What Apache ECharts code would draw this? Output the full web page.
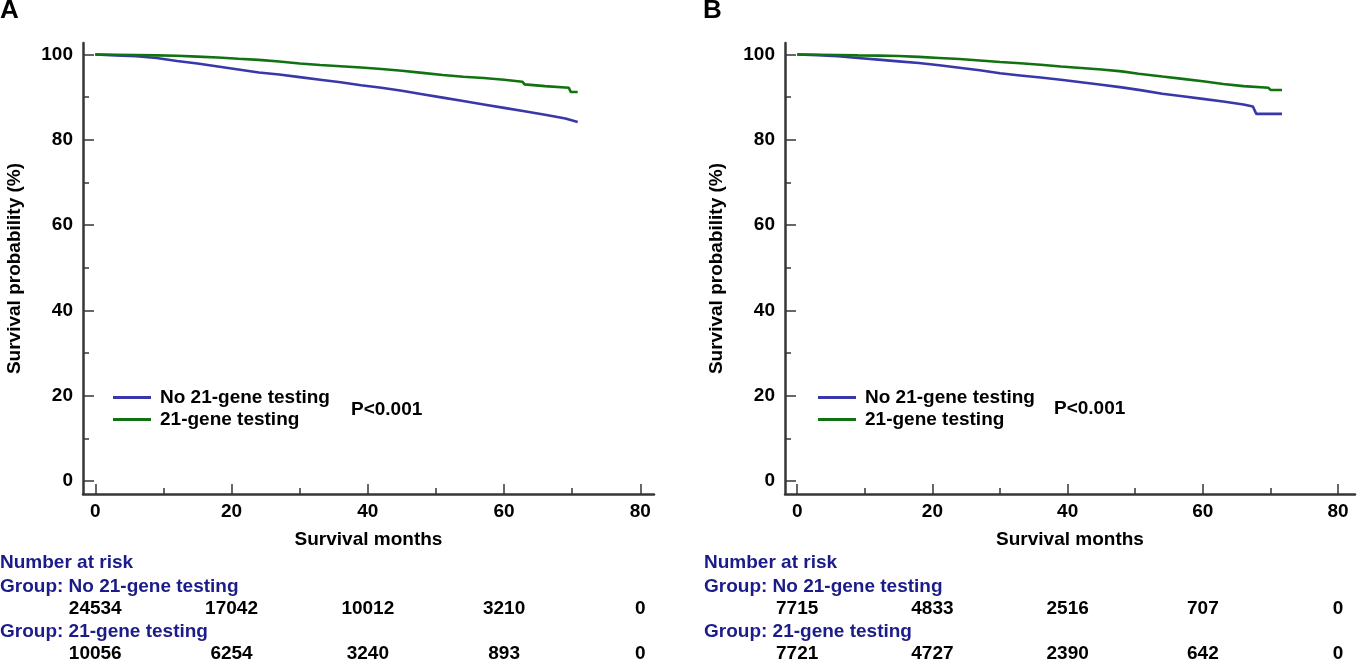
<!DOCTYPE html>
<html lang="en">
<head>
    <meta charset="UTF-8">
    <title>Survival curves</title>
    <script src="https://cdn.jsdelivr.net/npm/echarts@6/dist/echarts.min.js"></script>
    <style>
        html, body { margin: 0; padding: 0; background: #fff; }
        #myChart { width: 1358px; height: 660px; }
    </style>
</head>
<body>
    <div id="myChart"></div>

    <script>
        // data
        var groupNames = ['No 21-gene testing', '21-gene testing'];
        var monthTicks = [0, 20, 40, 60, 80];
        var monthMinor = [10, 30, 50, 70];
        var probTicks = [0, 20, 40, 60, 80, 100];
        var probMinor = [10, 30, 50, 70, 90];

        // panel A
        var monthsNoTestA = [0, 3, 6, 9, 12, 15, 18, 21, 24, 27, 30, 33, 36, 39, 42, 45, 48, 51, 54, 57, 60, 63, 66, 69, 70.8];
        var survNoTestA = [100, 99.8, 99.6, 99.2, 98.5, 97.9, 97.2, 96.5, 95.8, 95.3, 94.7, 94.1, 93.5, 92.8, 92.2, 91.5, 90.7, 89.9, 89.1, 88.3, 87.5, 86.7, 85.9, 85.0, 84.2];
        var monthsTestA = [0, 3, 6, 9, 12, 15, 18, 21, 24, 27, 30, 33, 36, 39, 42, 45, 48, 51, 54, 57, 60, 62.7, 63, 66, 69.5, 69.8, 70.8];
        var survTestA = [100, 99.95, 99.9, 99.8, 99.7, 99.5, 99.3, 99.0, 98.75, 98.35, 97.9, 97.55, 97.25, 96.95, 96.6, 96.2, 95.7, 95.2, 94.8, 94.5, 94.1, 93.6, 93.0, 92.6, 92.2, 91.2, 91.2];

        // panel B
        var monthsNoTestB = [0, 3, 6, 9, 12, 15, 18, 21, 24, 27, 30, 33, 36, 39, 42, 45, 48, 51, 54, 57, 60, 63, 66, 67.4, 67.9, 71.7];
        var survNoTestB = [100, 99.85, 99.6, 99.2, 98.8, 98.4, 98.0, 97.5, 96.9, 96.3, 95.6, 95.1, 94.6, 94.1, 93.5, 92.9, 92.3, 91.6, 90.8, 90.2, 89.6, 89.0, 88.3, 87.8, 86.1, 86.1];
        var monthsTestB = [0, 3, 6, 9, 12, 15, 18, 21, 24, 27, 30, 33, 36, 39, 42, 45, 48, 50.5, 54, 57, 60, 63, 66, 69.7, 70, 71.7];
        var survTestB = [100, 99.95, 99.9, 99.8, 99.75, 99.65, 99.45, 99.2, 98.95, 98.6, 98.25, 97.95, 97.6, 97.2, 96.85, 96.5, 96.05, 95.5, 94.85, 94.3, 93.75, 93.1, 92.6, 92.2, 91.7, 91.7];

        var riskNoTestA = [24534, 17042, 10012, 3210, 0];
        var riskTestA = [10056, 6254, 3240, 893, 0];
        var riskNoTestB = [7715, 4833, 2516, 707, 0];
        var riskTestB = [7721, 4727, 2390, 642, 0];

        var pText = 'P<0.001';

        var BLUE = '#3838aa';
        var GREEN = '#117211';
        var NAVY = '#1b1b8a';
        var AXIS = '#363636';
        var FONT = 'Liberation Sans, Arial, sans-serif';
        var FS = 19;

        function pairs(xs, ys) {
            return xs.map(function (x, i) { return [x, ys[i]]; });
        }

        function xAxes(grid, maxX, riskRows) {
            var list = [
                {
                    gridIndex: grid, type: 'value', position: 'bottom', min: -1.8, max: maxX,
                    name: 'Survival months', nameLocation: 'middle', nameGap: 36,
                    nameTextStyle: { color: '#000', fontSize: FS, fontWeight: 'bold', fontFamily: FONT },
                    axisLine: { onZero: false, lineStyle: { color: AXIS, width: 2.5 } },
                    axisTick: { inside: true, length: 10, customValues: monthTicks, lineStyle: { color: AXIS, width: 1.5 } },
                    axisLabel: { customValues: monthTicks, margin: 8, color: '#000', fontSize: FS, fontWeight: 'bold', fontFamily: FONT },
                    splitLine: { show: false }
                },
                {
                    gridIndex: grid, type: 'value', position: 'bottom', min: -1.8, max: maxX,
                    axisLine: { show: false, onZero: false },
                    axisTick: { inside: true, length: 6, customValues: monthMinor, lineStyle: { color: AXIS, width: 1.5 } },
                    axisLabel: { show: false },
                    splitLine: { show: false }
                }
            ];
            riskRows.forEach(function (row, k) {
                list.push({
                    gridIndex: grid, type: 'value', position: 'bottom', min: -1.8, max: maxX,
                    offset: k === 0 ? 105 : 150,
                    axisLine: { show: false, onZero: false },
                    axisTick: { show: false },
                    axisLabel: {
                        customValues: monthTicks, margin: 0, color: '#000', fontSize: FS, fontWeight: 'bold', fontFamily: FONT,
                        formatter: function (v) { return String(row[monthTicks.indexOf(v)]); }
                    },
                    splitLine: { show: false }
                });
            });
            return list;
        }

        function yAxes(grid) {
            return [
                {
                    gridIndex: grid, type: 'value', position: 'left', min: -3, max: 102.7,
                    name: 'Survival probability (%)', nameLocation: 'middle', nameGap: 59,
                    nameTextStyle: { color: '#000', fontSize: FS, fontWeight: 'bold', fontFamily: FONT },
                    axisLine: { onZero: false, lineStyle: { color: AXIS, width: 2.5 } },
                    axisTick: { inside: true, length: 11, customValues: probTicks, lineStyle: { color: AXIS, width: 1.5 } },
                    axisLabel: { customValues: probTicks, margin: 10, color: '#000', fontSize: FS, fontWeight: 'bold', fontFamily: FONT },
                    splitLine: { show: false }
                },
                {
                    gridIndex: grid, type: 'value', position: 'left', min: -3, max: 102.7,
                    axisLine: { show: false, onZero: false },
                    axisTick: { inside: true, length: 6, customValues: probMinor, lineStyle: { color: AXIS, width: 1.5 } },
                    axisLabel: { show: false },
                    splitLine: { show: false }
                }
            ];
        }

        function curve(name, data, color, xi, yi) {
            return {
                name: name, type: 'line', data: data,
                xAxisIndex: xi, yAxisIndex: yi,
                showSymbol: false, animation: false,
                lineStyle: { color: color, width: 2.6 },
                itemStyle: { color: color }
            };
        }

        function legendAt(left) {
            return {
                orient: 'vertical', left: left, top: 383,
                data: groupNames, icon: 'rect', itemWidth: 38, itemHeight: 3, itemGap: 3,
                selectedMode: false,
                textStyle: { color: '#000', fontSize: FS, fontWeight: 'bold', fontFamily: FONT, lineHeight: 19, padding: [0, 0, 0, 4] }
            };
        }

        function label(text, left, top, color, size) {
            return {
                type: 'text', left: left, top: top,
                style: { text: text, fill: color, font: 'bold ' + size + 'px ' + FONT }
            };
        }

        var myChart = echarts.init(document.getElementById('myChart'), null, { renderer: 'canvas' });
        var option = {
            backgroundColor: '#fff',
            animation: false,
            grid: [
                { left: 83, right: 704, top: 43, bottom: 166, outerBoundsMode: 'none' },
                { left: 785, right: 3, top: 43, bottom: 166, outerBoundsMode: 'none' }
            ],
            xAxis: xAxes(0, 82, [riskNoTestA, riskTestA]).concat(xAxes(1, 82.5, [riskNoTestB, riskTestB])),
            yAxis: yAxes(0).concat(yAxes(1)),
            legend: [legendAt(108), legendAt(813)],
            series: [
                curve(groupNames[0], pairs(monthsNoTestA, survNoTestA), BLUE, 0, 0),
                curve(groupNames[1], pairs(monthsTestA, survTestA), GREEN, 0, 0),
                curve(groupNames[0], pairs(monthsNoTestB, survNoTestB), BLUE, 4, 2),
                curve(groupNames[1], pairs(monthsTestB, survTestB), GREEN, 4, 2)
            ],
            graphic: [
                label('A', 0, -2, '#000', 26),
                label('B', 703, -2, '#000', 26),
                label(pText, 351, 400, '#000', FS),
                label(pText, 1054, 399, '#000', FS),
                label('Number at risk', 0, 553, NAVY, FS),
                label('Group: ' + groupNames[0], 0, 577, NAVY, FS),
                label('Group: ' + groupNames[1], 0, 622, NAVY, FS),
                label('Number at risk', 704, 553, NAVY, FS),
                label('Group: ' + groupNames[0], 704, 577, NAVY, FS),
                label('Group: ' + groupNames[1], 704, 622, NAVY, FS)
            ]
        };
        myChart.setOption(option);
    </script>
</body>
</html>
